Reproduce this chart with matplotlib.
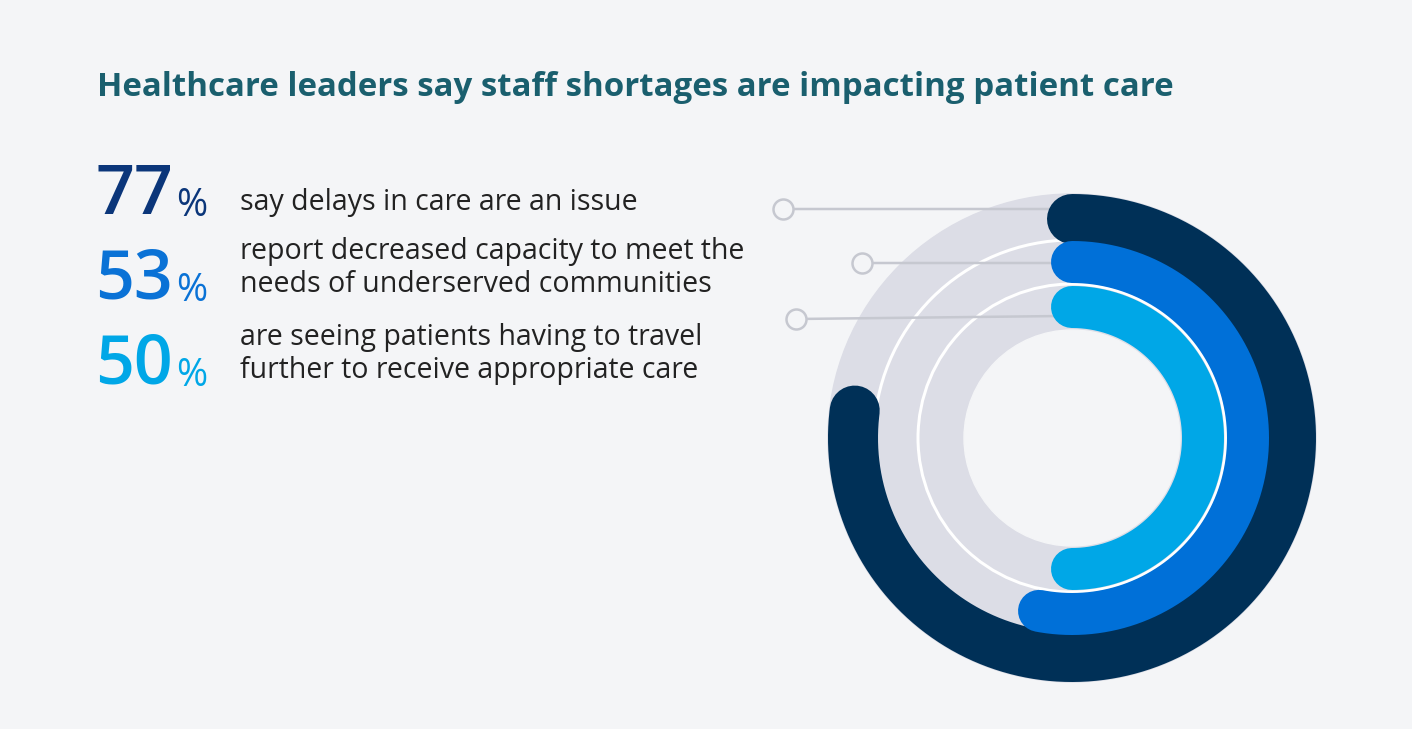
import numpy as np
import matplotlib.pyplot as plt

# data
percents = [77, 53, 50]
labels = ["say delays in care are an issue",
          "report decreased capacity to meet the\nneeds of underserved communities",
          "are seeing patients having to travel\nfurther to receive appropriate care"]
colors = ["#003057", "#0070d8", "#00a7e7"]
num_colors = ["#0b367a", "#0a72d6", "#00a7e7"]
title = "Healthcare leaders say staff shortages are impacting patient care"

W, H = 1412, 729
fig = plt.figure(figsize=(W / 100, H / 100), dpi=100)
fig.patch.set_facecolor("#f4f5f7")
ax = fig.add_axes([0, 0, 1, 1])
ax.set_xlim(0, W)
ax.set_ylim(H, 0)
ax.axis("off")
px = 0.72  # points per pixel

fig.text(97 / W, 1 - 88 / H, title, fontsize=33 * px, fontweight="bold",
         color="#1a5f6e", family="Open Sans", va="center")

# left text block
num_y = [196, 281, 366]
text_y = [202, 268, 354]
for p, lab, c, ny, ty in zip(percents, labels, num_colors, num_y, text_y):
    ax.text(95, ny, str(p), fontsize=68 * px, fontweight="semibold",
            color=c, family="Open Sans", va="center")
    ax.text(176, ny + 10, "%", fontsize=38 * px, color=c, family="Open Sans",
            va="center")
    ax.text(240, ty, lab, fontsize=28.5 * px, color="#222222", family="Open Sans",
            va="center", linespacing=1.2)

# rings
cx, cy = 1072, 438
ax.add_patch(plt.Circle((cx, cy), 244, color="#dcdde6", zorder=1))
ax.add_patch(plt.Circle((cx, cy), 108, color="#f4f5f7", zorder=1))
for r in [198, 154]:
    ax.add_patch(plt.Circle((cx, cy), r, fill=False, ec="white", lw=3 * px, zorder=2))

radii = [219, 176, 131]
widths = [50, 42, 42]
for p, c, r, w in zip(percents, colors, radii, widths):
    th = np.radians(90 - np.linspace(0, 360 * p / 100, 300))
    ax.plot(cx + r * np.cos(th), cy - r * np.sin(th), color=c, lw=w * px,
            solid_capstyle="round", zorder=3)

# leader lines
leader_y = [(209, 209), (263, 263), (316, 319)]
leader_x = [783, 862, 796]
for (y1, y2), x0 in zip(leader_y, leader_x):
    ax.plot([cx - 10, x0], [y1, y2], color="#c6c8d0", lw=2.5 * px, zorder=2)
    ax.scatter([x0], [y2], s=(20 * px) ** 2, facecolor="#f4f5f7",
               edgecolor="#c6c8d0", linewidth=2.5 * px, zorder=4)

fig.savefig("out.png", dpi=100, facecolor=fig.get_facecolor())
